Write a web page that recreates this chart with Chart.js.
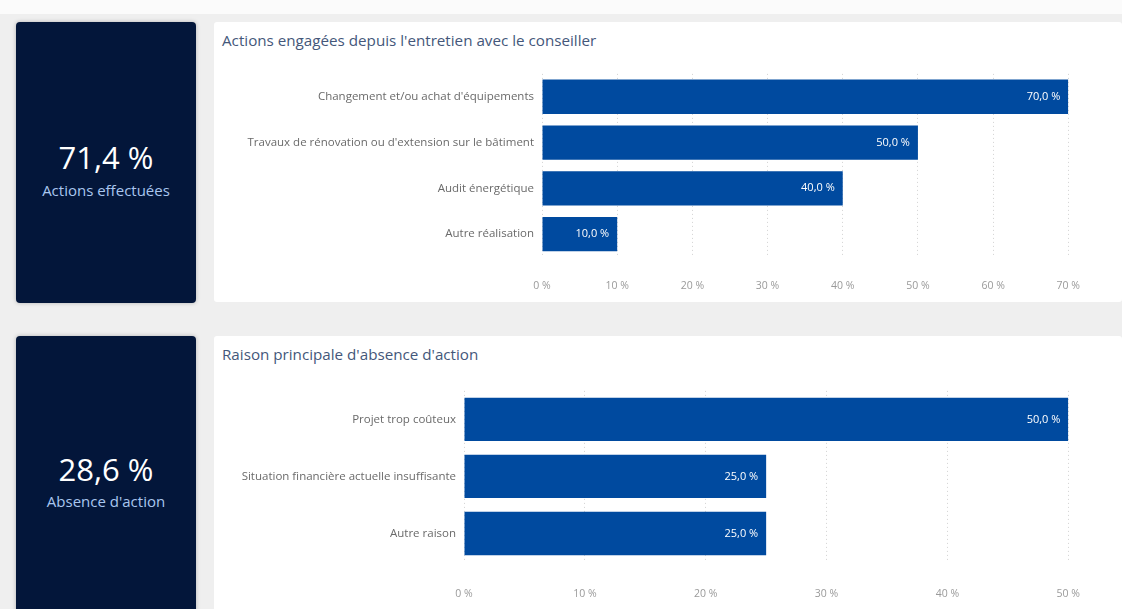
<!DOCTYPE html>
<html>
<head>
<meta charset="utf-8">
<script src="https://cdn.jsdelivr.net/npm/chart.js@4.4.0/dist/chart.umd.min.js"></script>
<style>
    html, body { margin: 0; padding: 0; }
    body {
        width: 1122px; height: 609px; overflow: hidden; position: relative;
        background: #efefef; font-family: "Open Sans", "Noto Sans", sans-serif;
    }
    .topstrip { position: absolute; left: 0; top: 0; width: 1122px; height: 14px; background: #fbfbfb; }
    .kpi {
        position: absolute; left: 16px; width: 180px; background: #03163a;
        border-radius: 4px; box-shadow: 0 0 4px rgba(0,0,0,0.25); color: #fff; text-align: center;
    }
    .kpi .val { position: absolute; left: 0; width: 100%; font-size: 31px; line-height: 34px; }
    .kpi .lbl { position: absolute; left: 0; width: 100%; font-size: 15px; line-height: 20px; color: #a9c6ef; }
    .panel { position: absolute; left: 214px; width: 908px; background: #fff; border-radius: 3px; }
    .title { position: absolute; left: 222px; font-size: 15.2px; line-height: 20px; color: #44577a; }
    canvas { position: absolute; }
</style>
</head>
<body>
<div class="topstrip"></div>

<div class="kpi" style="top:22px;height:281px;">
    <div class="val" style="top:118px;">71,4 %</div>
    <div class="lbl" style="top:158px;">Actions effectuées</div>
</div>
<div class="panel" style="top:22px;height:280px;"></div>
<div class="title" style="top:30px;">Actions engagées depuis l'entretien avec le conseiller</div>
<div style="position:absolute;left:214px;top:59px;width:889px;height:237px;"><canvas id="chart1"></canvas></div>

<div class="kpi" style="top:336px;height:290px;">
    <div class="val" style="top:116px;">28,6 %</div>
    <div class="lbl" style="top:155px;">Absence d'action</div>
</div>
<div class="panel" style="top:336px;height:290px;"></div>
<div class="title" style="top:344px;">Raison principale d'absence d'action</div>
<div style="position:absolute;left:214px;top:376px;width:892px;height:228px;"><canvas id="chart2"></canvas></div>

<script>
// data
const actionLabels = ["Changement et/ou achat d'équipements", "Travaux de rénovation ou d'extension sur le bâtiment", "Audit énergétique", "Autre réalisation"];
const actionValues = [70, 50, 40, 10];
const actionMax = 70;

const reasonLabels = ["Projet trop coûteux", "Situation financière actuelle insuffisante", "Autre raison"];
const reasonValues = [50, 25, 25];
const reasonMax = 50;

const barColor = "#004a9f";
const fontFamily = "'Open Sans', 'Noto Sans', sans-serif";

const fmtPct = v => v.toFixed(1).replace('.', ',') + ' %';

// simple inline value labels (white, at the end of each bar)
const valueLabels = {
    id: 'valueLabels',
    afterDatasetsDraw(chart) {
        const ctx = chart.ctx;
        const meta = chart.getDatasetMeta(0);
        ctx.save();
        ctx.fillStyle = '#ffffff';
        ctx.font = '11px ' + fontFamily;
        ctx.textAlign = 'right';
        ctx.textBaseline = 'middle';
        meta.data.forEach((bar, i) => {
            const v = chart.data.datasets[0].data[i];
            ctx.fillText(fmtPct(v), bar.x - 8, bar.y);
        });
        ctx.restore();
    }
};

function makeChart(id, labels, values, max, yWidth, barPct, padTop, xHeight, tickPad) {
    return new Chart(document.getElementById(id), {
        type: 'bar',
        data: {
            labels: labels,
            datasets: [{
                data: values,
                backgroundColor: barColor,
                borderWidth: 0,
                categoryPercentage: 1,
                barPercentage: barPct
            }]
        },
        plugins: [valueLabels],
        options: {
            indexAxis: 'y',
            responsive: true,
            maintainAspectRatio: false,
            animation: false,
            layout: { padding: { top: padTop, right: 26, left: 0, bottom: 0 } },
            plugins: {
                legend: { display: false },
                tooltip: { enabled: false }
            },
            scales: {
                x: {
                    min: 0,
                    max: max,
                    border: { display: false, dash: [1, 3] },
                    grid: { color: '#d2d2d2', lineWidth: 1, drawTicks: false },
                    ticks: {
                        stepSize: 10,
                        padding: tickPad,
                        color: '#9a9a9a',
                        font: { family: fontFamily, size: 10.5 },
                        callback: v => v + ' %'
                    },
                    afterFit: s => { s.height = xHeight; }
                },
                y: {
                    border: { display: false },
                    grid: { display: false, drawTicks: false },
                    ticks: {
                        padding: 8,
                        color: '#6a6a6a',
                        font: { family: fontFamily, size: 11.5 }
                    },
                    afterFit: s => { s.width = yWidth; }
                }
            }
        }
    });
}

makeChart('chart1', actionLabels, actionValues, actionMax, 328, 0.75, 8, 39, 23);
makeChart('chart2', reasonLabels, reasonValues, reasonMax, 250, 0.76, 10, 42, 26);
</script>
</body>
</html>
